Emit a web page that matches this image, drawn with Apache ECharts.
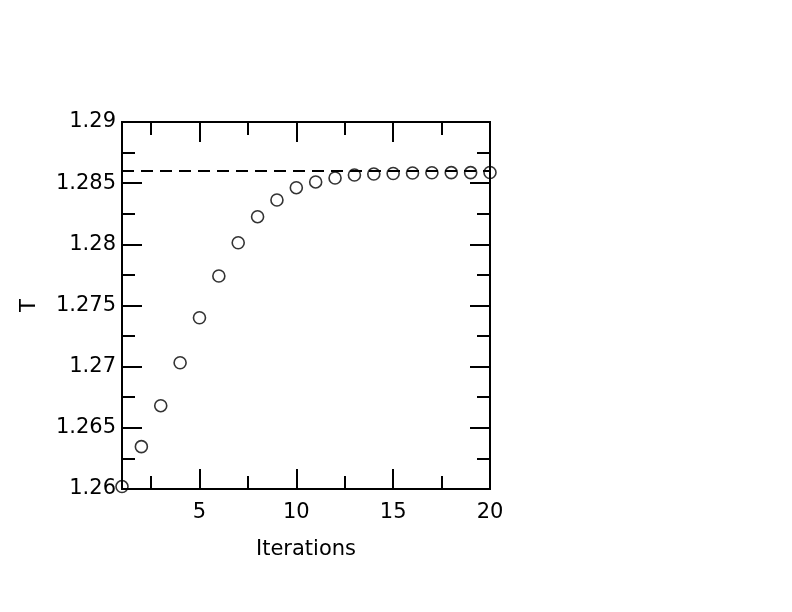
<!DOCTYPE html>
<html>
<head>
<meta charset="utf-8">
<script src="https://cdn.jsdelivr.net/npm/echarts@6/dist/echarts.min.js"></script>
<style>
  html, body { margin: 0; padding: 0; background: #fff; }
  #chart { width: 792px; height: 612px; }
</style>
</head>
<body>
<div id="chart"></div>
<script>
// iterations and T values
const iterations = [1, 2, 3, 4, 5, 6, 7, 8, 9, 10, 11, 12, 13, 14, 15, 16, 17, 18, 19, 20];
const tValues = [1.2602, 1.26346, 1.26681, 1.27032, 1.274, 1.27741, 1.28013, 1.28226, 1.28362, 1.28463,
  1.2851, 1.28542, 1.28567, 1.28575, 1.28579, 1.28583, 1.28585, 1.28586, 1.28586, 1.28587];

// reference (converged) value, dashed line
const refX = [1, 20];
const refT = 1.286;

// ticks
const xMajor = [5, 10, 15, 20];
const xMinor = [2.5, 7.5, 12.5, 17.5];
const yMajor = [1.26, 1.265, 1.27, 1.275, 1.28, 1.285, 1.29];
const yMinor = [1.2625, 1.2675, 1.2725, 1.2775, 1.2825, 1.2875];

const FONT = 'DejaVu Sans';
const lineStyle = { color: '#000', width: 2 };

function xAx(position, ticks, len, opts) {
  return Object.assign({
    type: 'value', min: 1, max: 20, position: position,
    axisLine: { show: true, lineStyle: lineStyle },
    axisTick: { show: true, inside: true, length: len, customValues: ticks, lineStyle: lineStyle },
    axisLabel: { show: false },
    splitLine: { show: false }
  }, opts || {});
}
function yAx(position, ticks, len, opts) {
  return Object.assign({
    type: 'value', min: 1.26, max: 1.29, position: position,
    axisLine: { show: true, lineStyle: lineStyle },
    axisTick: { show: true, inside: true, length: len, customValues: ticks, lineStyle: lineStyle },
    axisLabel: { show: false },
    splitLine: { show: false }
  }, opts || {});
}

let myChart = echarts.init(document.getElementById('chart'));
let option = {
  animation: false,
  grid: { left: 122, top: 122, right: 302, bottom: 123 },
  xAxis: [
    xAx('bottom', xMajor, 20, {
      name: 'Iterations', nameLocation: 'middle', nameGap: 50,
      nameTextStyle: { fontFamily: FONT, fontSize: 21, color: '#000' },
      axisLabel: { show: true, customValues: xMajor, margin: 13, fontFamily: FONT, fontSize: 21, color: '#000' }
    }),
    xAx('bottom', xMinor, 13),
    xAx('top', xMajor, 20),
    xAx('top', xMinor, 13)
  ],
  yAxis: [
    yAx('left', yMajor, 20, {
      name: 'T', nameLocation: 'middle', nameGap: 82,
      nameTextStyle: { fontFamily: FONT, fontSize: 21, color: '#000' },
      axisLabel: { show: true, customValues: yMajor, margin: 6, fontFamily: FONT, fontSize: 21, color: '#000' }
    }),
    yAx('left', yMinor, 13),
    yAx('right', yMajor, 20),
    yAx('right', yMinor, 13)
  ],
  series: [
    {
      type: 'line',
      data: refX.map(x => [x, refT]),
      showSymbol: false,
      symbol: 'none',
      lineStyle: { color: '#000', width: 2, type: [12, 7] },
      z: 1
    },
    {
      type: 'scatter',
      data: iterations.map((x, i) => [x, tValues[i]]),
      symbol: 'circle',
      symbolSize: 12,
      itemStyle: { color: 'rgba(0,0,0,0)', borderColor: '#000', borderWidth: 1.6 },
      z: 2
    }
  ]
};
myChart.setOption(option, true);
</script>
</body>
</html>
